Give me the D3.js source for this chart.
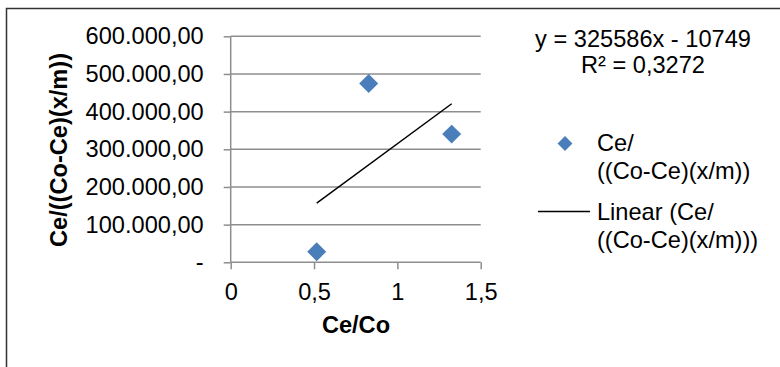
<!DOCTYPE html>
<html>
<head>
<meta charset="utf-8">
<script src="https://cdn.jsdelivr.net/npm/d3@7"></script>
<style>
  body { margin: 0; background: #fff; }
  text { font-family: "Liberation Sans", Arial, sans-serif; }
</style>
</head>
<body>
<div id="chart"></div>
<script>
// data
var xValues = [0.516, 0.828, 1.326];
var yValues = [28100, 474800, 340300];
var trendSlope = 325586;
var trendIntercept = -10749;
var xTicks = [0, 0.5, 1, 1.5];
var yTicks = [0, 100000, 200000, 300000, 400000, 500000, 600000];
var equationLines = ["y = 325586x - 10749", "R² = 0,3272"];
var seriesName = ["Ce/", "((Co-Ce)(x/m))"];
var trendName = ["Linear (Ce/", "((Co-Ce)(x/m)))"];

function init() {
    var w = 780, h = 367;
    var fs = 23.6;
    var gridColor = "#8e8e8e";
    var blue = "#4a7ebb";

    var svg = d3.select("#chart").append("svg")
        .attr("width", w)
        .attr("height", h);

    // outer chart border (runs off the right and bottom edge)
    svg.append("rect")
        .attr("x", 6.5).attr("y", 8.5)
        .attr("width", 820).attr("height", 420)
        .attr("fill", "none")
        .attr("stroke", "#333")
        .attr("stroke-width", 1.5);

    var xScale = d3.scaleLinear().domain([0, 1.5]).range([230.7, 480.7]);
    var yScale = d3.scaleLinear().domain([0, 600000]).range([262.3, 36.3]);

    var loc = d3.formatLocale({decimal: ",", thousands: ".", grouping: [3], currency: ["", ""]});
    var yFmt = loc.format(",.2f");

    // gridlines
    svg.append("g").selectAll("line")
        .data(yTicks.slice(1))
        .enter().append("line")
        .attr("x1", xScale(0)).attr("x2", xScale(1.5))
        .attr("y1", function(d) { return yScale(d); })
        .attr("y2", function(d) { return yScale(d); })
        .attr("stroke", gridColor)
        .attr("stroke-width", 1.5);

    // y axis
    var yAxis = d3.axisLeft(yScale)
        .tickValues(yTicks)
        .tickSize(7)
        .tickPadding(20)
        .tickFormat(function(d) { return d === 0 ? "-" : yFmt(d); });
    var gy = svg.append("g")
        .attr("transform", "translate(" + xScale(0) + ",0)")
        .call(yAxis);

    // x axis
    var xAxis = d3.axisBottom(xScale)
        .tickValues(xTicks)
        .tickSize(7)
        .tickPadding(14)
        .tickFormat(function(d) { return String(d).replace(".", ","); });
    var gx = svg.append("g")
        .attr("transform", "translate(0," + yScale(0) + ")")
        .call(xAxis);

    [gx, gy].forEach(function(g) {
        g.select(".domain").attr("stroke", gridColor).attr("stroke-width", 1.5);
        g.selectAll(".tick line").attr("stroke", gridColor).attr("stroke-width", 1.5);
        g.selectAll(".tick text")
            .attr("fill", "#000")
            .style("font-size", fs + "px")
            .style("font-family", "Liberation Sans, Arial, sans-serif");
    });
    gx.select(".domain").attr("d", "M" + xScale(0) + ",0H" + xScale(1.5));
    gy.select(".domain").attr("d", "M0," + yScale(0) + "V" + yScale(600000));

    // trendline
    var xMin = d3.min(xValues), xMax = d3.max(xValues);
    var trend = [xMin, xMax].map(function(x) { return [x, trendSlope * x + trendIntercept]; });
    svg.append("path")
        .datum(trend)
        .attr("d", d3.line()
            .x(function(d) { return xScale(d[0]); })
            .y(function(d) { return yScale(d[1]); }))
        .attr("fill", "none")
        .attr("stroke", "#000")
        .attr("stroke-width", 1.5);

    // points
    var diamond = d3.symbol().type(d3.symbolSquare).size(180);
    svg.append("g").selectAll("path")
        .data(xValues)
        .enter().append("path")
        .attr("d", diamond)
        .attr("transform", function(d, i) {
            return "translate(" + xScale(d) + "," + yScale(yValues[i]) + ") rotate(45)";
        })
        .attr("fill", blue);

    // axis titles
    svg.append("text")
        .attr("x", 356).attr("y", 333)
        .attr("text-anchor", "middle")
        .style("font-size", fs + "px")
        .style("font-weight", "bold")
        .text("Ce/Co");
    svg.append("text")
        .attr("transform", "translate(67,150) rotate(-90)")
        .attr("text-anchor", "middle")
        .style("font-size", fs + "px")
        .style("font-weight", "bold")
        .text("Ce/((Co-Ce)(x/m))");

    // trendline equation
    svg.selectAll(".eq")
        .data(equationLines)
        .enter().append("text")
        .attr("class", "eq")
        .attr("x", 643)
        .attr("y", function(d, i) { return 46.5 + i * 26.5; })
        .attr("text-anchor", "middle")
        .style("font-size", fs + "px")
        .text(function(d) { return d; });

    // legend
    svg.append("path")
        .attr("d", d3.symbol().type(d3.symbolSquare).size(110))
        .attr("transform", "translate(565,143.5) rotate(45)")
        .attr("fill", blue);
    svg.selectAll(".leg1")
        .data(seriesName)
        .enter().append("text")
        .attr("class", "leg1")
        .attr("x", 597)
        .attr("y", function(d, i) { return 151 + i * 28; })
        .style("font-size", fs + "px")
        .text(function(d) { return d; });
    svg.append("line")
        .attr("x1", 538).attr("x2", 590)
        .attr("y1", 211.5).attr("y2", 211.5)
        .attr("stroke", "#000")
        .attr("stroke-width", 1.5);
    svg.selectAll(".leg2")
        .data(trendName)
        .enter().append("text")
        .attr("class", "leg2")
        .attr("x", 597)
        .attr("y", function(d, i) { return 220 + i * 28; })
        .style("font-size", fs + "px")
        .text(function(d) { return d; });
}
window.onload = init;
</script>
</body>
</html>
